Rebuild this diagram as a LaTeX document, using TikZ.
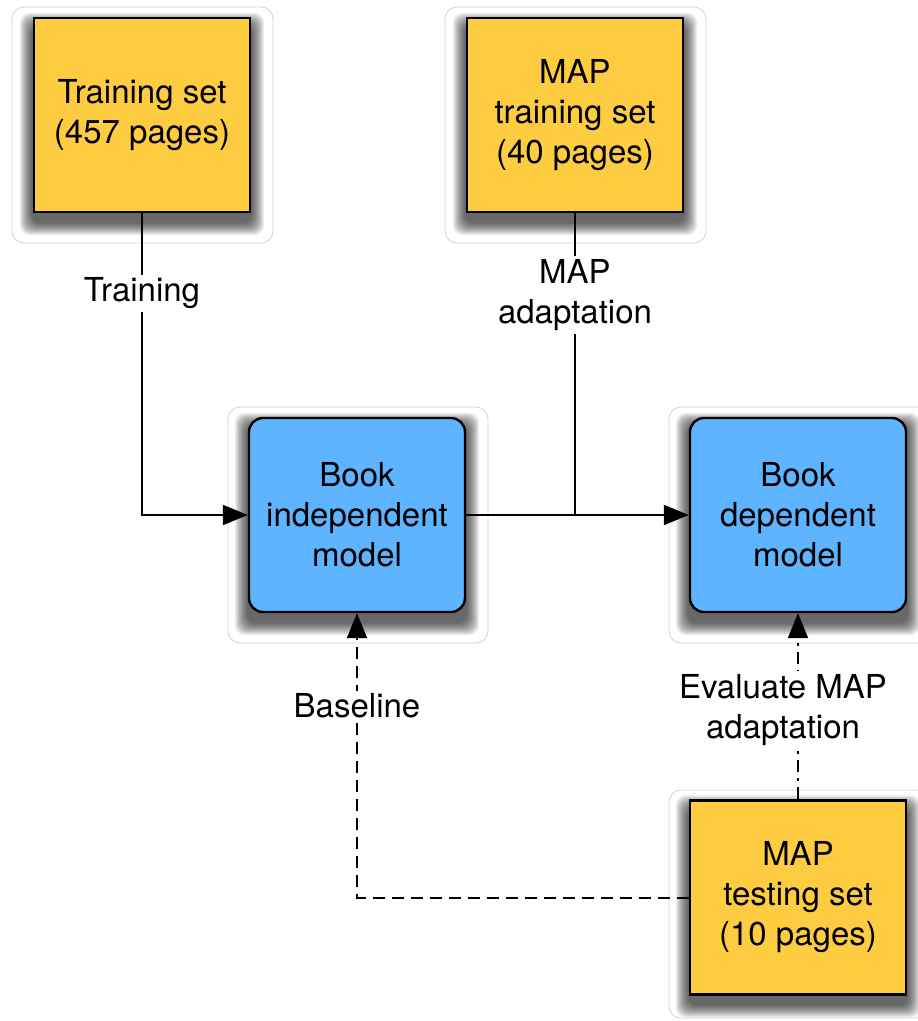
\documentclass[tikz,border=0pt]{standalone}
\usepackage{fontspec}
\setmainfont{TeX Gyre Heros}
\usetikzlibrary{arrows.meta}
\definecolor{boxyellow}{RGB}{253,204,64}
\definecolor{boxblue}{RGB}{94,180,255}
\pgfdeclarelayer{bg}
\pgfsetlayers{bg,main}
\tikzset{
  base/.style={minimum width=216pt, minimum height=194pt, inner sep=0pt, align=center,
    font=\fontsize{33}{40}\selectfont, line width=2.4pt, draw=black},
  dataset/.style={base, fill=boxyellow},
  model/.style={base, fill=boxblue, rounded corners=14pt},
  halo/.style={draw=black!18, line width=0.8pt, rounded corners=12pt},
  shadowlayer/.style={fill=black, opacity=0.065, rounded corners=10pt},
  lbl/.style={fill=white, inner sep=3pt, align=center, font=\fontsize{33}{40}\selectfont},
  arr/.style={line width=2pt, -{Triangle[length=25pt,width=20pt]}},
  conn/.style={line width=2pt},
}
\begin{document}
\begin{tikzpicture}[x=1pt,y=-1pt]
\useasboundingbox (0,0) rectangle (918,1021);
% faint halos
\draw[halo] (12,7) rectangle (273,243);
\draw[halo] (445,7) rectangle (706,243);
\draw[halo] (228,407) rectangle (488,643);
\draw[halo] (669,407) rectangle (929,643);
\draw[halo] (669,790) rectangle (929,1018);
% boxes
\node[dataset] (ts) at (142,115) {Training set\\(457 pages)};
\node[dataset] (mt) at (575,115) {MAP\\training set\\(40 pages)};
\node[model] (bi) at (357,515) {Book\\independent\\model};
\node[model] (bd) at (798,515) {Book\\dependent\\model};
\node[dataset] (ms) at (798,897.5) {MAP\\testing set\\(10 pages)};
% soft shadows
\begin{pgfonlayer}{bg}
\foreach \n in {ts,mt,bi,bd,ms}{
  \foreach \i in {1,...,13}{
    \fill[shadowlayer] ([shift={(-\i,9-\i)}]\n.north west) rectangle ([shift={(\i,9+\i)}]\n.south east);
  }
}
\end{pgfonlayer}
\coordinate (j) at (575,516);
% connectors
\draw[arr] (ts.south) |- node[lbl, pos=0.133] {Training} (bi.west);
\draw[conn] (mt.south) -- node[lbl, pos=0.27] {MAP\\adaptation} (j);
\draw[arr] (bi.east) -- (bd.west);
\draw[arr, dash pattern=on 12pt off 7pt] (ms.west) -| node[lbl, pos=0.837] {Baseline} (bi.south);
\draw[arr, dash pattern=on 12pt off 6pt on 3pt off 6pt] (ms.north) -- node[lbl, pos=0.48, xshift=-15pt] {Evaluate MAP\\adaptation} (bd.south);
\end{tikzpicture}
\end{document}
